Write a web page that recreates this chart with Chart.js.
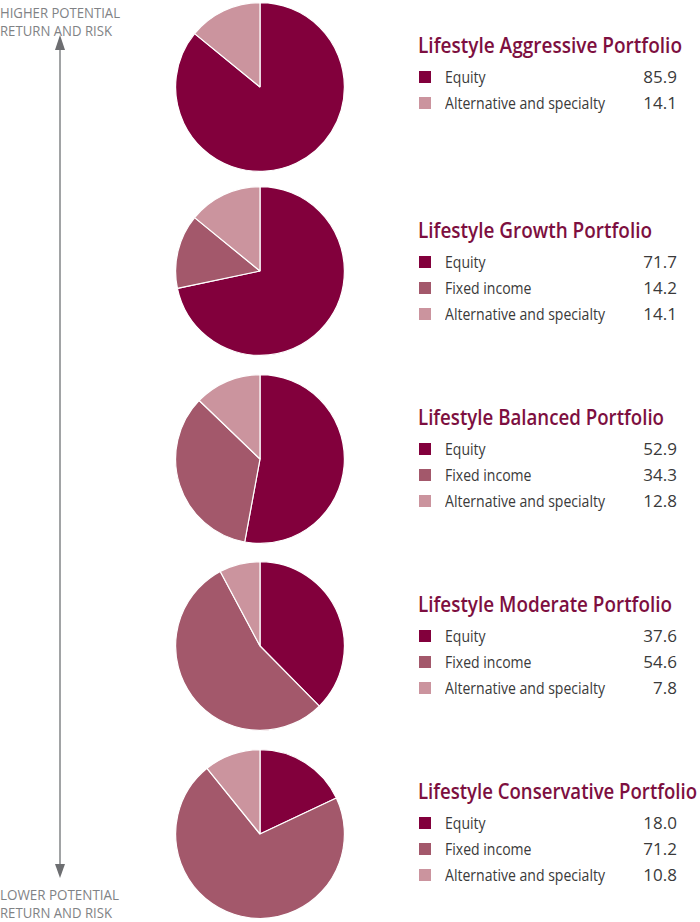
<!DOCTYPE html>
<html><head><meta charset="utf-8">
<script src="https://cdn.jsdelivr.net/npm/chart.js@4"></script>
<style>
html,body{margin:0;padding:0;background:#fff;width:700px;height:922px;overflow:hidden;position:relative;font-family:"Open Sans","Liberation Sans",sans-serif;}
.pie{position:absolute;}
.title{position:absolute;left:418px;font-family:"Open Sans",sans-serif;font-weight:600;font-size:22px;line-height:28px;color:#7d0f40;white-space:nowrap;transform-origin:left center;}
.row{position:absolute;left:419px;width:258px;height:22px;font-size:17px;line-height:22px;color:#3a3a3a;font-weight:400;}
.sq{position:absolute;left:0;top:5px;width:12px;height:12px;}
.lab{position:absolute;left:26px;top:0;white-space:nowrap;transform-origin:left center;}
.val{position:absolute;right:0;top:0;}
.side{position:absolute;left:0;font-size:15px;color:#808285;line-height:18px;white-space:nowrap;transform-origin:left center;}
</style></head>
<body>
<div class="side" id="s1" style="top:3px">HIGHER POTENTIAL</div>
<div class="side" id="s2" style="top:21px">RETURN AND RISK</div>
<div class="side" id="s3" style="top:885px">LOWER POTENTIAL</div>
<div class="side" id="s4" style="top:903px">RETURN AND RISK</div>
<svg width="700" height="922" style="position:absolute;left:0;top:0" >
<line x1="60" y1="48" x2="60" y2="868" stroke="#8a8c8e" stroke-width="1.6"/>
<polygon points="60,35 55,50 65,50" fill="#6d6e71"/>
<polygon points="60,878 55,864 65,864" fill="#6d6e71"/>
</svg>
<script>
const portfolios = ["Lifestyle Aggressive Portfolio","Lifestyle Growth Portfolio","Lifestyle Balanced Portfolio","Lifestyle Moderate Portfolio","Lifestyle Conservative Portfolio"];
const categories = ["Equity","Fixed income","Alternative and specialty"];
const equity = [85.9, 71.7, 52.9, 37.6, 18.0];
const fixedIncome = [null, 14.2, 34.3, 54.6, 71.2];
const alternative = [14.1, 14.1, 12.8, 7.8, 10.8];

// layout
const colors = ["#82003c","#a3586b","#cb949e"];
const pieCenters = [87, 271, 459, 646, 834];
const titleTops = [30, 215, 402, 589, 776];
const titleWidths = [264, 234, 246, 254, 279];
const R = 84;

function fit(el, target) {
  const w = el.getBoundingClientRect().width;
  if (w > 0) el.style.transform = 'scaleX(' + (target / w) + ')';
}

let labScale = null;
portfolios.forEach((name, i) => {
  const vals = [equity[i], fixedIncome[i], alternative[i]];
  const labels = [], data = [], bg = [];
  vals.forEach((v, k) => { if (v !== null) { labels.push(categories[k]); data.push(v); bg.push(colors[k]); } });

  const c = document.createElement('canvas');
  c.className = 'pie';
  const size = 2*R + 2;
  c.width = size; c.height = size;
  c.style.left = (260 - size/2) + 'px';
  c.style.top = (pieCenters[i] - size/2) + 'px';
  document.body.appendChild(c);
  new Chart(c, {
    type: 'pie',
    data: { labels, datasets: [{ data, backgroundColor: bg, borderColor: '#ffffff', borderWidth: 1.2 }] },
    options: { responsive: false, animation: false, events: [],
      layout: { padding: 0 },
      plugins: { legend: { display: false }, tooltip: { enabled: false } } }
  });

  const t = document.createElement('div');
  t.className = 'title'; t.textContent = name; t.style.top = titleTops[i] + 'px';
  document.body.appendChild(t);
  fit(t, titleWidths[i]);
  labels.forEach((lab, k) => {
    const r = document.createElement('div');
    r.className = 'row';
    r.style.top = (titleTops[i] + 36 + k*26) + 'px';
    r.innerHTML = '<div class="sq" style="background:' + bg[k] + '"></div><div class="lab">' + lab + '</div><div class="val">' + data[k].toFixed(1) + '</div>';
    document.body.appendChild(r);
    const l = r.querySelector('.lab');
    if (labScale === null && lab === categories[2]) { labScale = 160 / l.getBoundingClientRect().width; }
  });
});
document.querySelectorAll('.lab').forEach(l => { l.style.transform = 'scaleX(' + (labScale || 0.9) + ')'; });
fit(document.getElementById('s1'), 120);
fit(document.getElementById('s2'), 112);
fit(document.getElementById('s3'), 119);
fit(document.getElementById('s4'), 112);
</script>
</body></html>
